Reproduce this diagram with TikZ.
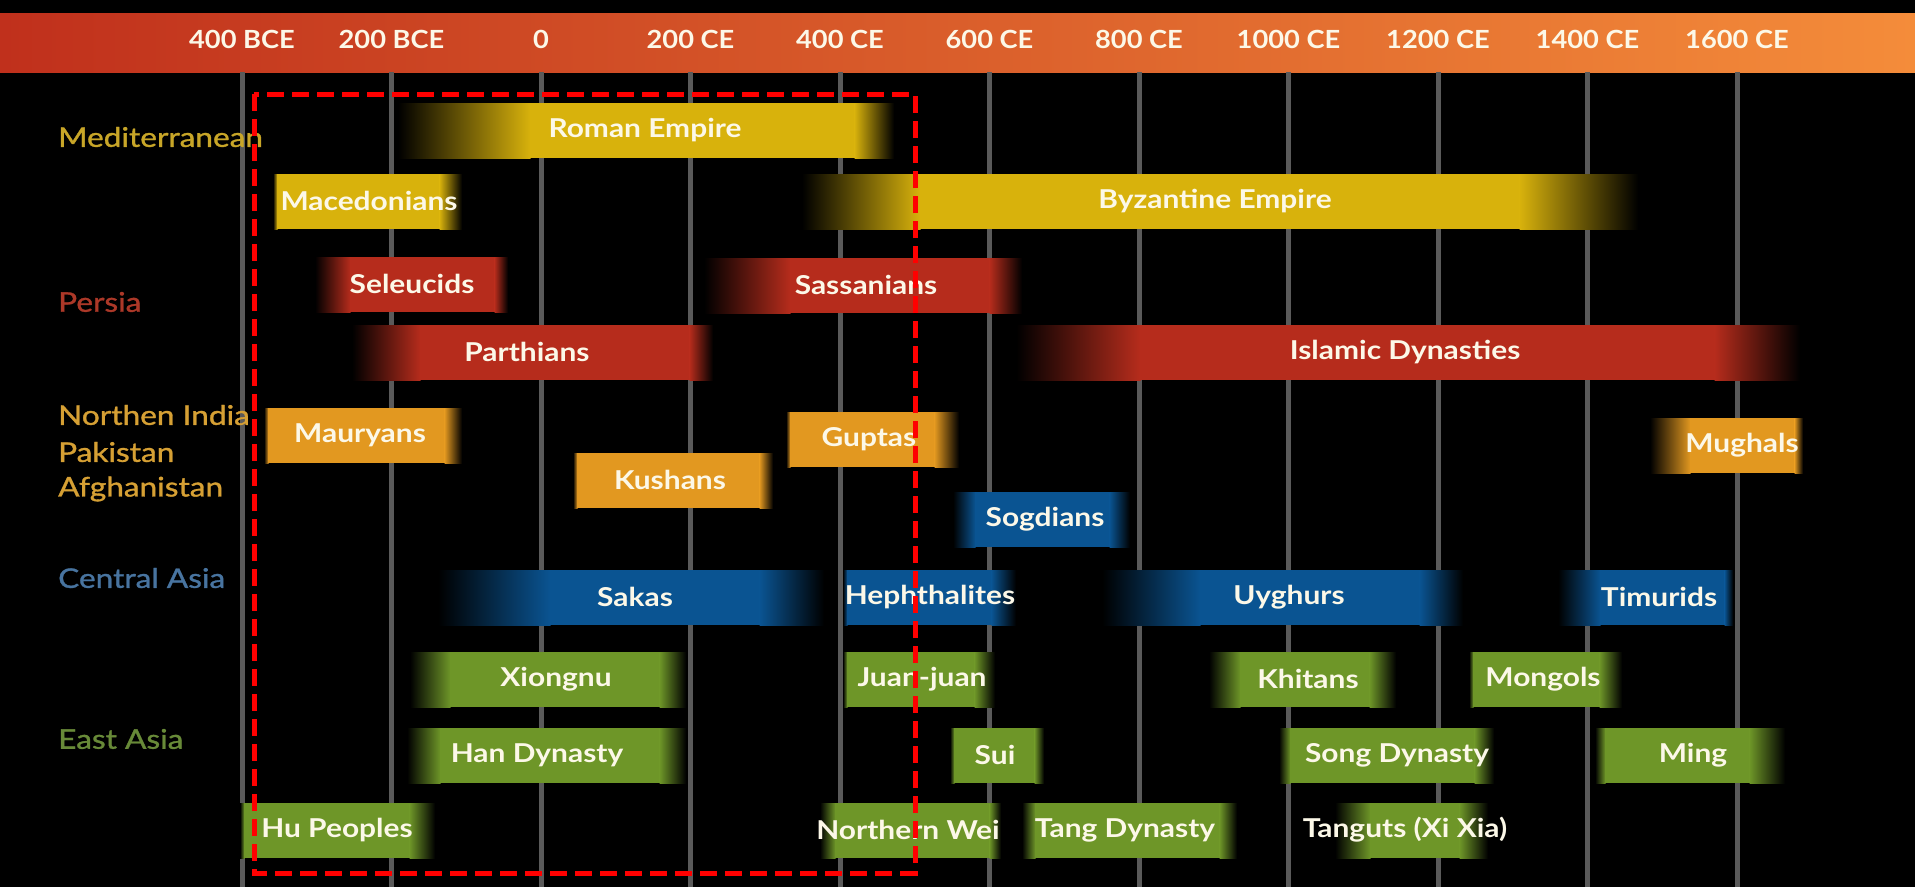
\documentclass[tikz,border=0pt]{standalone}
\usepackage{fontspec}
\setmainfont{Lato}
\newfontfamily\barfont{Lato}[FakeStretch=1.15]
\newfontfamily\labfont{Lato}[FakeStretch=1.17, FakeBold=1.2]
\newfontfamily\tickfont{Lato}[FakeStretch=1.09]
\definecolor{yel}{RGB}{216,178,12}
\definecolor{red1}{RGB}{182,44,28}
\definecolor{ora}{RGB}{226,152,32}
\definecolor{blu}{RGB}{10,84,146}
\definecolor{grn}{RGB}{110,150,40}
\definecolor{lyel}{RGB}{200,166,40}
\definecolor{lred}{RGB}{172,56,40}
\definecolor{lora}{RGB}{214,160,52}
\definecolor{lblu}{RGB}{72,116,160}
\definecolor{lgrn}{RGB}{104,138,56}
\definecolor{cream}{RGB}{252,248,232}
\definecolor{hdrL}{RGB}{192,48,28}
\definecolor{hdrM}{RGB}{208,70,32}
\definecolor{hdrR}{RGB}{244,140,58}
\definecolor{gridc}{RGB}{90,90,90}
\tikzset{
  bartext/.style={text=cream, font=\barfont\fontsize{26}{31}\selectfont\bfseries, inner sep=0pt},
  ticktext/.style={text=cream, font=\tickfont\fontsize{25}{30}\selectfont\bfseries, inner sep=0pt},
  regtext/.style={anchor=west, font=\labfont\fontsize{27}{32}\selectfont, inner sep=0pt},
  gridline/.style={draw=gridc, line width=5pt},
  zone/.style={draw=red, line width=5pt, dash pattern=on 17pt off 8pt}
}
% #1 name, #2 x1, #3 left fade end, #4 right fade start, #5 x2, #6 y top, #7 colour, #8 text x, #9 text
\newcommand\tlbar[9]{%
  \fill[left color=black, right color=#7] (#2,#6) rectangle (#3+0.5,#6+55);
  \fill[#7] (#3,#6) rectangle (#4,#6+55);
  \fill[left color=#7, right color=black] (#4-0.5,#6) rectangle (#5,#6+55);
  \node[bartext] (#1) at (#8,#6+27) {#9};
}
\begin{document}
\begin{tikzpicture}[x=1pt,y=-1pt]
\useasboundingbox (0,0) rectangle (1915,887);
\fill[black] (0,0) rectangle (1915,887);
% header
\fill[left color=hdrL, middle color=hdrM, right color=hdrR] (0,13) rectangle (1915,72);
% grid lines and tick labels
\foreach \yr/\lab [count=\i] in {-400/400 BCE,-200/200 BCE,0/0,200/200 CE,400/400 CE,600/600 CE,800/800 CE,1000/1000 CE,1200/1200 CE,1400/1400 CE,1600/1600 CE}{
  \draw[gridline] (541+0.7475*\yr,72) -- (541+0.7475*\yr,887);
  \node[ticktext] (tick\i) at (541+0.7475*\yr,39) {\lab};
}
% region labels
\node[regtext, text=lyel] (medit) at (58,137) {Mediterranean};
\node[regtext, text=lred] (persia) at (58,302) {Persia};
\node[regtext, text=lora] (india) at (58,415) {Northen India};
\node[regtext, text=lora] (pak) at (58,452) {Pakistan};
\node[regtext, text=lora] (afg) at (58,489) {Afghanistan};
\node[regtext, text=lblu] (casia) at (58,578) {Central Asia};
\node[regtext, text=lgrn] (easia) at (58,739) {East Asia};
% Mediterranean
\tlbar{roman}{398}{530}{855}{894}{103}{yel}{645}{Roman Empire}
\tlbar{maced}{273}{277}{440}{462}{174}{yel}{369}{Macedonians}
\tlbar{byz}{802}{920}{1520}{1638}{174}{yel}{1215}{Byzantine Empire}
% Persia
\tlbar{seleu}{315}{350}{495}{508}{257}{red1}{412}{Seleucids}
\tlbar{sass}{704}{790}{990}{1022}{258}{red1}{866}{Sassanians}
\tlbar{parth}{352}{420}{690}{713}{325}{red1}{527}{Parthians}
\tlbar{islam}{1016}{1140}{1715}{1800}{325}{red1}{1405}{Islamic Dynasties}
% India
\tlbar{maury}{264}{268}{445}{462}{408}{ora}{360}{Mauryans}
\tlbar{gupta}{786}{790}{935}{959}{412}{ora}{869}{Guptas}
\tlbar{kushan}{573}{577}{760}{773}{453}{ora}{670}{Kushans}
\tlbar{mughal}{1650}{1690}{1795}{1803}{418}{ora}{1742}{Mughals}
% Central Asia
\tlbar{sogd}{953}{975}{1110}{1130}{492}{blu}{1045}{Sogdians}
\tlbar{sakas}{438}{550}{760}{824}{570}{blu}{635}{Sakas}
\tlbar{heph}{843}{847}{992}{1016}{570}{blu}{930}{Hephthalites}
\tlbar{uygh}{1102}{1200}{1420}{1463}{570}{blu}{1289}{Uyghurs}
\tlbar{timur}{1558}{1600}{1725}{1733}{570}{blu}{1659}{Timurids}
% East Asia
\tlbar{xiong}{410}{450}{660}{686}{652}{grn}{556}{Xiongnu}
\tlbar{juan}{843}{847}{975}{995}{652}{grn}{922}{Juan-juan}
\tlbar{khitan}{1209}{1240}{1370}{1396}{652}{grn}{1308}{Khitans}
\tlbar{mongol}{1469}{1473}{1600}{1622}{652}{grn}{1543}{Mongols}
\tlbar{han}{407}{440}{660}{686}{728}{grn}{537}{Han Dynasty}
\tlbar{sui}{950}{954}{1035}{1044}{728}{grn}{995}{Sui}
\tlbar{song}{1279}{1290}{1475}{1494}{728}{grn}{1397}{Song Dynasty}
\tlbar{ming}{1595}{1605}{1750}{1785}{728}{grn}{1693}{Ming}
\tlbar{hu}{240}{244}{410}{435}{803}{grn}{337}{Hu Peoples}
\tlbar{nwei}{820}{835}{990}{1001}{803}{grn}{908}{Northern Wei}
\tlbar{tang}{1022}{1035}{1220}{1237}{803}{grn}{1125}{Tang Dynasty}
\tlbar{tangut}{1335}{1370}{1460}{1488}{803}{grn}{1405}{Tanguts (Xi Xia)}
% highlighted zone
\draw[zone] (254,94) rectangle (915,873);
\end{tikzpicture}
\end{document}
